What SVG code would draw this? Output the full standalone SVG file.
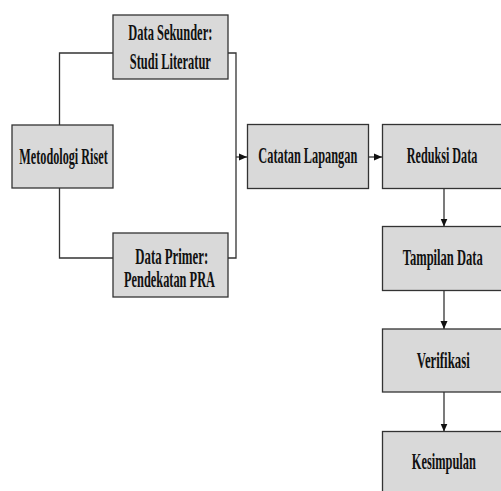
<svg xmlns="http://www.w3.org/2000/svg" width="501" height="491" viewBox="0 0 501 491">
<style>
.box{fill:#d9d9d9;stroke:#333;stroke-width:1.3}
.t{font-family:"Liberation Serif","Times New Roman",serif;font-weight:bold;font-size:23px;fill:#111;text-anchor:middle}
.c{fill:none;stroke:#333;stroke-width:1.3}
</style>
<defs>
<marker id="ah" viewBox="0 0 8 8" refX="8" refY="4" markerWidth="8" markerHeight="8" markerUnits="userSpaceOnUse" orient="auto">
<path d="M0,0.5 L8,4 L0,7.5 Z" fill="#111"/>
</marker>
</defs>
<rect width="501" height="491" fill="#fff"/>
<g id="connectors">
<path class="c" d="M113,53 H59.5 V125"/>
<path class="c" d="M59.5,188 V258 H113"/>
<path class="c" d="M228,53 H236 V258 H228"/>
<path class="c" d="M236,157 H247" marker-end="url(#ah)"/>
<path class="c" d="M369,157 H382" marker-end="url(#ah)"/>
<path class="c" d="M444,188.5 V226.5" marker-end="url(#ah)"/>
<path class="c" d="M444,290.5 V329" marker-end="url(#ah)"/>
<path class="c" d="M444,392 V431.5" marker-end="url(#ah)"/>
</g>
<g id="data-sekunder">
<rect class="box" x="113" y="15" width="115" height="64"/>
<text class="t" transform="translate(170.3,40) scale(0.54,1)" textLength="155.6" lengthAdjust="spacingAndGlyphs">Data Sekunder:</text>
<text class="t" transform="translate(170.3,68.5) scale(0.54,1)" textLength="150" lengthAdjust="spacingAndGlyphs">Studi Literatur</text>
</g>
<g id="metodologi-riset">
<rect class="box" x="12" y="125" width="101" height="63"/>
<text class="t" transform="translate(63.5,164) scale(0.54,1)" textLength="163.7" lengthAdjust="spacingAndGlyphs">Metodologi Riset</text>
</g>
<g id="data-primer">
<rect class="box" x="113" y="233" width="115" height="64"/>
<text class="t" transform="translate(171.7,263.5) scale(0.54,1)" textLength="135.2" lengthAdjust="spacingAndGlyphs">Data Primer:</text>
<text class="t" transform="translate(169.5,286.5) scale(0.54,1)" textLength="168.5" lengthAdjust="spacingAndGlyphs">Pendekatan PRA</text>
</g>
<g id="catatan-lapangan">
<rect class="box" x="247.5" y="124.5" width="121" height="64"/>
<text class="t" transform="translate(307.8,163) scale(0.54,1)" textLength="183.3" lengthAdjust="spacingAndGlyphs">Catatan Lapangan</text>
</g>
<g id="reduksi-data">
<rect class="box" x="382.5" y="124.5" width="123" height="64"/>
<text class="t" transform="translate(442,163) scale(0.54,1)" textLength="130.7" lengthAdjust="spacingAndGlyphs">Reduksi Data</text>
</g>
<g id="tampilan-data">
<rect class="box" x="382.5" y="226.5" width="123" height="64"/>
<text class="t" transform="translate(442.7,265) scale(0.54,1)" textLength="148.1" lengthAdjust="spacingAndGlyphs">Tampilan Data</text>
</g>
<g id="verifikasi">
<rect class="box" x="382.5" y="329" width="123" height="63"/>
<text class="t" transform="translate(443.3,367.5) scale(0.54,1)" textLength="98.1" lengthAdjust="spacingAndGlyphs">Verifikasi</text>
</g>
<g id="kesimpulan">
<rect class="box" x="382.5" y="431.5" width="123" height="64"/>
<text class="t" transform="translate(443.8,468.5) scale(0.54,1)" textLength="118.5" lengthAdjust="spacingAndGlyphs">Kesimpulan</text>
</g>
</svg>
